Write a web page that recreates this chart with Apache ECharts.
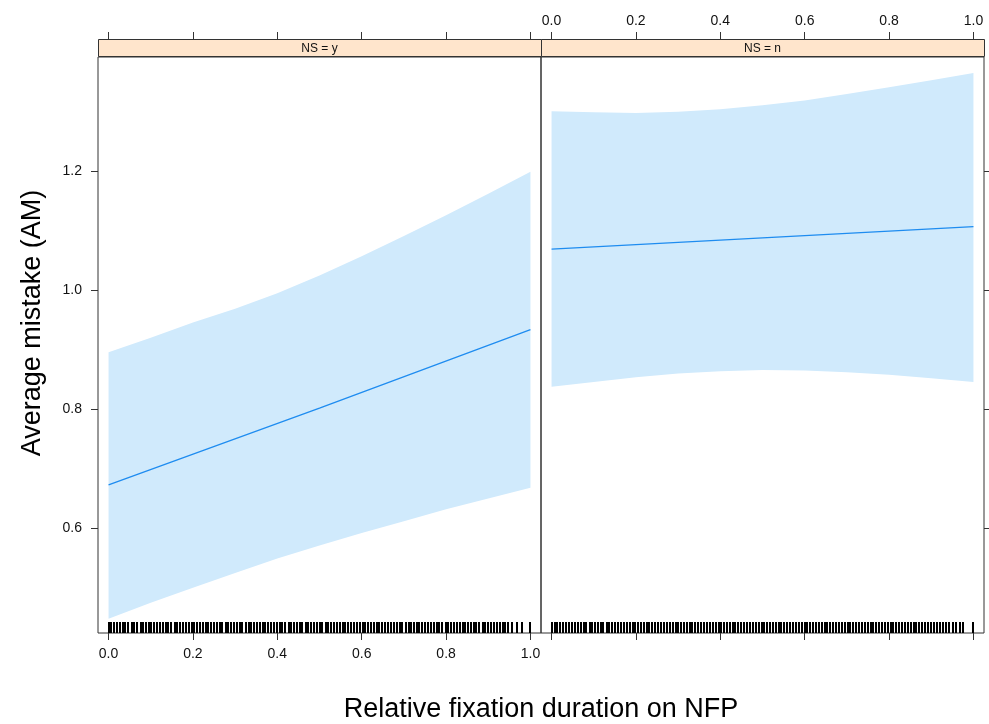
<!DOCTYPE html>
<html>
<head>
<meta charset="utf-8">
<script src="https://cdn.jsdelivr.net/npm/echarts@6/dist/echarts.min.js"></script>
<style>
  html, body { margin: 0; padding: 0; background: #ffffff; }
  #chart { width: 989px; height: 724px; }
</style>
</head>
<body>
<div id="chart"></div>
<script>
// Effect of relative fixation duration on NFP on average mistake, split by NS
const panelNames = ['NS = y', 'NS = n'];
const xTicks = [0, 0.2, 0.4, 0.6, 0.8, 1.0];
const yTicks = [0.6, 0.8, 1.0, 1.2];

// fitted effect line
const fitX = [0, 0.5, 1];
const fitNSy = [0.673, 0.802, 0.934];
const fitNSn = [1.069, 1.088, 1.107];

// confidence band
const bandX = [0, 0.1, 0.2, 0.3, 0.4, 0.5, 0.6, 0.7, 0.8, 0.9, 1.0];
const upperNSy = [0.896, 0.920, 0.946, 0.969, 0.995, 1.025, 1.057, 1.091, 1.126, 1.162, 1.199];
const lowerNSy = [0.448, 0.475, 0.500, 0.525, 0.549, 0.571, 0.592, 0.612, 0.632, 0.650, 0.668];
const upperNSn = [1.301, 1.299, 1.298, 1.300, 1.304, 1.311, 1.319, 1.330, 1.341, 1.353, 1.365];
const lowerNSn = [0.838, 0.846, 0.854, 0.860, 0.864, 0.866, 0.865, 0.862, 0.858, 0.852, 0.846];

// observed x values (rug)
const rugNSy = [0.000,0.006,0.014,0.019,0.027,0.034,0.040,0.047,0.055,0.061,0.068,0.076,0.081,0.088,0.096,0.101,0.108,0.116,0.122,0.129,0.136,0.141,0.149,0.157,0.162,0.170,0.176,0.183,0.190,0.197,0.203,0.209,0.217,0.224,0.230,0.236,0.244,0.251,0.257,0.264,0.270,0.278,0.284,0.291,0.298,0.305,0.311,0.317,0.325,0.332,0.338,0.345,0.351,0.358,0.366,0.372,0.379,0.385,0.392,0.400,0.406,0.412,0.419,0.427,0.433,0.440,0.447,0.453,0.459,0.467,0.473,0.480,0.488,0.494,0.500,0.507,0.515,0.521,0.527,0.534,0.541,0.548,0.555,0.561,0.568,0.575,0.582,0.588,0.596,0.602,0.609,0.616,0.622,0.629,0.637,0.642,0.649,0.656,0.663,0.670,0.677,0.683,0.690,0.696,0.704,0.711,0.717,0.724,0.731,0.737,0.744,0.751,0.758,0.764,0.772,0.778,0.784,0.791,0.799,0.805,0.811,0.818,0.826,0.832,0.839,0.845,0.852,0.860,0.866,0.872,0.879,0.887,0.893,0.900,0.906,0.913,0.920,0.927,0.934,0.940,0.946,0.956,0.968,0.980,1.000];
const rugNSn = [0.000,0.008,0.014,0.021,0.028,0.035,0.041,0.049,0.055,0.062,0.069,0.076,0.082,0.090,0.096,0.103,0.110,0.117,0.123,0.131,0.137,0.144,0.151,0.158,0.164,0.171,0.178,0.185,0.192,0.198,0.205,0.212,0.219,0.226,0.232,0.239,0.246,0.253,0.260,0.266,0.273,0.280,0.287,0.294,0.300,0.307,0.314,0.321,0.328,0.334,0.341,0.348,0.355,0.362,0.368,0.375,0.382,0.389,0.396,0.402,0.409,0.416,0.423,0.430,0.436,0.443,0.450,0.457,0.464,0.470,0.477,0.484,0.491,0.498,0.504,0.511,0.518,0.525,0.532,0.538,0.545,0.552,0.559,0.566,0.572,0.579,0.586,0.593,0.600,0.606,0.613,0.620,0.627,0.634,0.640,0.647,0.654,0.661,0.668,0.674,0.681,0.688,0.695,0.702,0.708,0.715,0.722,0.729,0.736,0.742,0.749,0.756,0.763,0.770,0.776,0.783,0.790,0.797,0.804,0.810,0.817,0.824,0.831,0.838,0.844,0.851,0.858,0.865,0.872,0.878,0.885,0.892,0.899,0.906,0.913,0.920,0.928,0.935,0.943,0.951,0.959,0.967,0.975,1.000];

const X_MIN = -0.025, X_MAX = 1.025;
const Y_MIN = 0.424, Y_MAX = 1.392;

const FONT = 'Liberation Sans, Arial, sans-serif';
const FRAME = '#333333';
const BAND_FILL = '#D0EAFC';
const LINE_COLOR = '#1E8CF0';

const grids = [
  { left: 98, top: 57, width: 443, height: 576 },
  { left: 541, top: 57, width: 443, height: 576 }
];

function fmt(v) { return v.toFixed(1); }

function xAxisPair(gi) {
  const bottomLabels = gi === 0;
  const topLabels = gi === 1;
  const base = {
    type: 'value', gridIndex: gi, min: X_MIN, max: X_MAX,
    splitLine: { show: false },
    axisLine: { show: false, onZero: false }
  };
  return [
    Object.assign({}, base, {
      position: 'bottom',
      axisTick: { show: true, inside: false, length: 7, customValues: xTicks, lineStyle: { color: FRAME } },
      axisLabel: { show: bottomLabels, customValues: xTicks, formatter: fmt, margin: 14,
        color: '#111', fontSize: 14, fontFamily: FONT }
    }),
    Object.assign({}, base, {
      position: 'top', offset: 18,
      axisTick: { show: true, inside: false, length: 7, customValues: xTicks, lineStyle: { color: FRAME } },
      axisLabel: { show: topLabels, customValues: xTicks, formatter: fmt, margin: 11,
        color: '#111', fontSize: 14, fontFamily: FONT }
    })
  ];
}

function yAxisFor(gi) {
  return {
    type: 'value', gridIndex: gi, min: Y_MIN, max: Y_MAX,
    position: gi === 0 ? 'left' : 'right',
    splitLine: { show: false },
    axisLine: { show: false, onZero: false },
    axisTick: { show: true, inside: false, length: 7, customValues: yTicks, lineStyle: { color: FRAME } },
    axisLabel: { show: gi === 0, customValues: yTicks, formatter: fmt, margin: 16,
      color: '#111', fontSize: 14, fontFamily: FONT }
  };
}

function bandSeries(gi, upper, lower) {
  return {
    type: 'custom', xAxisIndex: gi * 2, yAxisIndex: gi, silent: true, z: 1,
    data: [[bandX[0], upper[0]]],
    renderItem: function (params, api) {
      const pts = [];
      for (let i = 0; i < bandX.length; i++) pts.push(api.coord([bandX[i], upper[i]]));
      for (let i = bandX.length - 1; i >= 0; i--) pts.push(api.coord([bandX[i], lower[i]]));
      return { type: 'polygon', shape: { points: pts }, style: { fill: BAND_FILL, stroke: null } };
    }
  };
}

function lineSeries(gi, ys) {
  return {
    type: 'line', xAxisIndex: gi * 2, yAxisIndex: gi, silent: true, z: 3,
    symbol: 'none', animation: false,
    data: fitX.map((x, i) => [x, ys[i]]),
    lineStyle: { color: LINE_COLOR, width: 1.3 }
  };
}

function rugSeries(gi, values) {
  return {
    type: 'custom', xAxisIndex: gi * 2, yAxisIndex: gi, silent: true, z: 4,
    data: values.map(v => [v, Y_MIN]),
    renderItem: function (params, api) {
      const p = api.coord([api.value(0), Y_MIN]);
      const x = Math.round(p[0]);
      return { type: 'line', shape: { x1: x, y1: p[1], x2: x, y2: p[1] - 11 },
        style: { stroke: '#000', lineWidth: 2 } };
    }
  };
}

const extraGraphics = [];
grids.forEach((g, i) => {
  extraGraphics.push({
    type: 'rect', z: 10,
    shape: { x: g.left + 0.5, y: 39.5, width: g.width, height: 17 },
    style: { fill: '#FFE5CC', stroke: FRAME, lineWidth: 1 }
  });
  extraGraphics.push({
    type: 'text', z: 11,
    x: g.left + g.width / 2, y: 48.5,
    style: { text: panelNames[i], fill: '#111', font: '12px ' + FONT, align: 'center', verticalAlign: 'middle' }
  });
});

extraGraphics.push({
  type: 'text', z: 11, x: 33, y: 323, rotation: Math.PI / 2,
  style: { text: 'Average mistake (AM)', fill: '#000', font: '27px ' + FONT, align: 'center', verticalAlign: 'middle' }
});
extraGraphics.push({
  type: 'text', z: 11, x: 541, y: 710,
  style: { text: 'Relative fixation duration on NFP', fill: '#000', font: '27px ' + FONT, align: 'center', verticalAlign: 'middle' }
});

const option = {
  animation: false,
  backgroundColor: '#ffffff',
  grid: grids.map(g => Object.assign({ show: true, borderColor: FRAME, borderWidth: 1, backgroundColor: 'transparent' }, g)),
  xAxis: [].concat(xAxisPair(0), xAxisPair(1)),
  yAxis: [yAxisFor(0), yAxisFor(1)],
  series: [
    bandSeries(0, upperNSy, lowerNSy),
    lineSeries(0, fitNSy),
    rugSeries(0, rugNSy),
    bandSeries(1, upperNSn, lowerNSn),
    lineSeries(1, fitNSn),
    rugSeries(1, rugNSn)
  ],
  graphic: extraGraphics
};

const chart = echarts.init(document.getElementById('chart'), null, { renderer: 'canvas' });
chart.setOption(option);
</script>
</body>
</html>
